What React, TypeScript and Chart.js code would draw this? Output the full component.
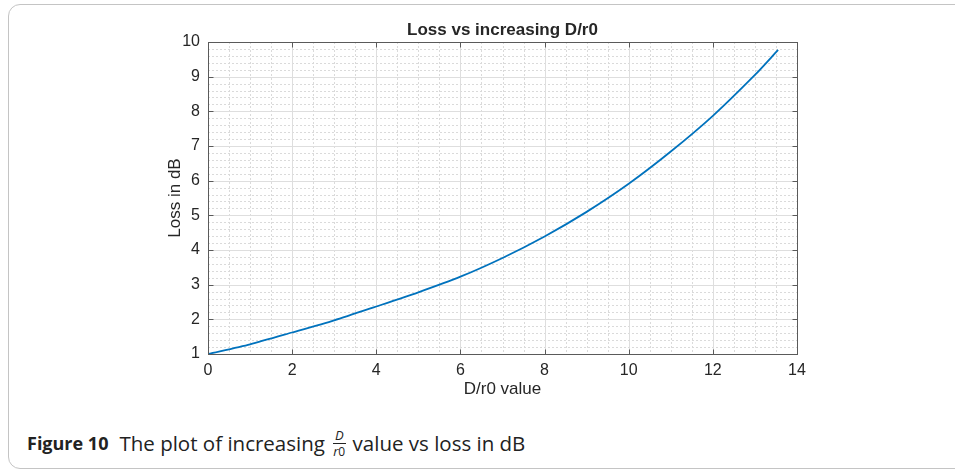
import { useEffect, useRef } from "react";
import { Chart, registerables } from "chart.js";

Chart.register(...registerables);

// D/r0 ratio and the resulting loss (dB)
const dOverR0 = [0, 1, 2, 3, 4, 5, 6, 7, 8, 9, 10, 11, 12, 13, 13.55];
const lossDb = [1.0, 1.28, 1.62, 1.97, 2.37, 2.78, 3.23, 3.77, 4.39, 5.1, 5.91, 6.84, 7.87, 9.05, 9.77];

const xTickValues = [0, 2, 4, 6, 8, 10, 12, 14];
const yTickValues = [1, 2, 3, 4, 5, 6, 7, 8, 9, 10];

const chartTitle = "Loss vs increasing D/r0";
const xAxisTitle = "D/r0 value";
const yAxisTitle = "Loss in dB";

const CANVAS_W = 955;
const CANVAS_H = 410;
const TEXT_COLOR = "#262626";
const AXIS_FONT = "'Liberation Sans', Arial, Helvetica, sans-serif";
const LINE_BLUE = "#0072BD";

// Grid, boxed axes with inward ticks, and the titles, drawn the MATLAB way
const matlabAxes = {
  id: "matlabAxes",
  beforeDatasetsDraw(chart: any) {
    const { ctx, chartArea: a, scales } = chart;
    const xs = scales.x;
    const ys = scales.y;
    const seg = (x1: number, y1: number, x2: number, y2: number) => {
      ctx.beginPath();
      ctx.moveTo(x1, y1);
      ctx.lineTo(x2, y2);
      ctx.stroke();
    };
    ctx.save();
    ctx.lineWidth = 1;
    // minor grid: every 0.5 on x, every 0.2 on y
    ctx.strokeStyle = "#dadada";
    ctx.setLineDash([2, 2]);
    for (let k = 1; k < 28; k++) {
      if (k % 4 === 0) continue;
      const px = Math.round(xs.getPixelForValue(k / 2)) + 0.5;
      seg(px, a.top, px, a.bottom);
    }
    for (let k = 12; k < 100; k += 2) {
      if (k % 10 === 0) continue;
      const py = Math.round(ys.getPixelForValue(k / 10)) + 0.5;
      seg(a.left, py, a.right, py);
    }
    // major grid
    ctx.setLineDash([]);
    ctx.strokeStyle = "#dedede";
    xTickValues.forEach((v) => {
      const px = Math.round(xs.getPixelForValue(v)) + 0.5;
      seg(px, a.top, px, a.bottom);
    });
    yTickValues.forEach((v) => {
      const py = Math.round(ys.getPixelForValue(v)) + 0.5;
      seg(a.left, py, a.right, py);
    });
    ctx.restore();
  },
  afterDatasetsDraw(chart: any) {
    const { ctx, chartArea: a, scales } = chart;
    const xs = scales.x;
    const ys = scales.y;
    const L = Math.round(a.left) + 0.5;
    const R = Math.round(a.right) + 0.5;
    const T = Math.round(a.top) + 0.5;
    const B = Math.round(a.bottom) + 0.5;
    const seg = (x1: number, y1: number, x2: number, y2: number) => {
      ctx.beginPath();
      ctx.moveTo(x1, y1);
      ctx.lineTo(x2, y2);
      ctx.stroke();
    };
    ctx.save();
    ctx.lineWidth = 1;
    ctx.strokeStyle = "#5a5a5a";
    ctx.strokeRect(L, T, R - L, B - T);
    const tick = 5;
    xTickValues.forEach((v) => {
      const px = Math.round(xs.getPixelForValue(v)) + 0.5;
      seg(px, B, px, B - tick);
      seg(px, T, px, T + tick);
    });
    yTickValues.forEach((v) => {
      const py = Math.round(ys.getPixelForValue(v)) + 0.5;
      seg(L, py, L + tick, py);
      seg(R, py, R - tick, py);
    });

    // titles
    ctx.fillStyle = TEXT_COLOR;
    ctx.textAlign = "center";
    ctx.textBaseline = "middle";
    const cx = (a.left + a.right) / 2;
    ctx.font = `bold 17px ${AXIS_FONT}`;
    ctx.fillText(chartTitle, cx, 30);
    ctx.font = `17px ${AXIS_FONT}`;
    ctx.fillText(xAxisTitle, cx, 389);
    ctx.translate(175, (a.top + a.bottom) / 2);
    ctx.rotate(-Math.PI / 2);
    ctx.fillText(yAxisTitle, 0, 0);
    ctx.restore();
  },
};

function LossChart() {
  const canvasRef = useRef<HTMLCanvasElement | null>(null);

  useEffect(() => {
    const canvas = canvasRef.current;
    if (!canvas) return;
    const chart = new Chart(canvas, {
      type: "line",
      data: {
        datasets: [
          {
            data: dOverR0.map((d, i) => ({ x: d, y: lossDb[i] })),
            borderColor: LINE_BLUE,
            borderWidth: 1.8,
            pointRadius: 0,
            tension: 0.25,
            fill: false,
          },
        ],
      },
      options: {
        responsive: false,
        animation: false,
        events: [],
        layout: { padding: { left: 0, top: 42, right: CANVAS_W - 797, bottom: 0 } },
        plugins: {
          legend: { display: false },
          title: { display: false },
          tooltip: { enabled: false },
        },
        scales: {
          x: {
            type: "linear",
            min: 0,
            max: 14,
            afterFit: (s: any) => {
              s.height = CANVAS_H - 354;
            },
            afterBuildTicks: (s: any) => {
              s.ticks = xTickValues.map((v) => ({ value: v }));
            },
            grid: { display: false, drawTicks: false },
            border: { display: false },
            ticks: {
              padding: 7,
              color: TEXT_COLOR,
              font: { family: AXIS_FONT, size: 16 },
              maxRotation: 0,
              autoSkip: false,
            },
          },
          y: {
            type: "linear",
            min: 1,
            max: 10,
            afterFit: (s: any) => {
              s.width = 208;
            },
            afterBuildTicks: (s: any) => {
              s.ticks = yTickValues.map((v) => ({ value: v }));
            },
            grid: { display: false, drawTicks: false },
            border: { display: false },
            ticks: {
              padding: 8,
              color: TEXT_COLOR,
              font: { family: AXIS_FONT, size: 16 },
              autoSkip: false,
            },
          },
        },
      },
      plugins: [matlabAxes],
    } as any);
    return () => chart.destroy();
  }, []);

  return (
    <canvas
      ref={canvasRef}
      width={CANVAS_W}
      height={CANVAS_H}
      style={{ position: "absolute", left: 0, top: 0, width: CANVAS_W, height: CANVAS_H }}
    />
  );
}

export default function App() {
  const captionFont = "'Open Sans', 'Noto Sans', sans-serif";
  return (
    <div
      style={{
        position: "absolute",
        left: 0,
        top: 0,
        width: 955,
        height: 475,
        overflow: "hidden",
        background: "#ffffff",
      }}
    >
      <div
        style={{
          position: "absolute",
          left: 8,
          top: 4,
          width: 970,
          height: 465,
          border: "1px solid #c4c4c4",
          borderRadius: 12,
          boxSizing: "border-box",
        }}
      />
      <LossChart />
      <div
        style={{
          position: "absolute",
          left: 27,
          top: 430,
          fontFamily: captionFont,
          fontSize: 20.5,
          color: "#222",
          whiteSpace: "nowrap",
          display: "flex",
          alignItems: "center",
          height: 26,
        }}
      >
        <span style={{ fontWeight: 700, fontSize: 18 }}>Figure 10</span>
        <span style={{ marginLeft: 11 }}>The plot of increasing</span>
        <span
          style={{
            display: "inline-flex",
            flexDirection: "column",
            alignItems: "center",
            margin: "0 7px 0 8px",
            fontSize: 13,
            lineHeight: "13px",
          }}
        >
          <span style={{ fontStyle: "italic", borderBottom: "1px solid #222", padding: "0 2px 1px" }}>D</span>
          <span style={{ paddingTop: 1 }}>
            <i>r</i>
            <span style={{ fontSize: 12 }}>0</span>
          </span>
        </span>
        <span>value vs loss in dB</span>
      </div>
    </div>
  );
}
